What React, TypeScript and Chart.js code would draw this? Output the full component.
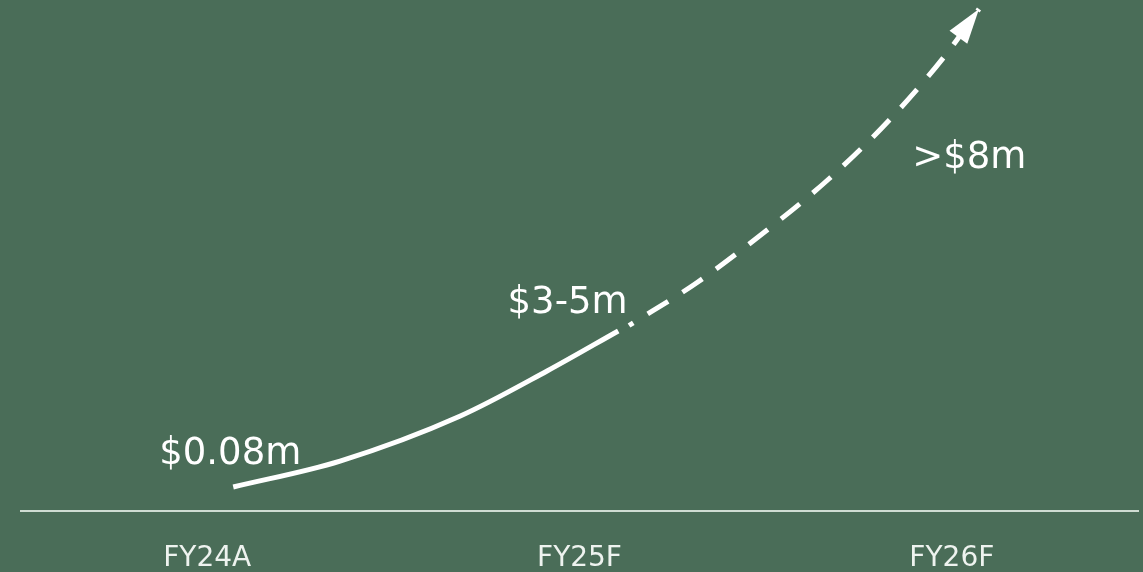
import React, { useEffect, useRef } from "react";
import { Chart, registerables } from "chart.js";

Chart.register(...registerables);

// Category axis
const categories = ["FY24A", "FY25F", "FY26F"];
// Value call-outs, one per category
const valueLabels = ["$0.08m", "$3-5m", ">$8m"];

// Solid (actual) part of the growth curve, x in category units, y in relative units
const solidX = [0.07, 0.357, 0.68, 0.913, 1.104];
const solidY = [0.47, 0.978, 1.859, 2.74, 3.523];

// Dashed (forecast) part of the growth curve, ending in the arrow tip
const dashedX = [1.133, 1.316, 1.497, 1.671, 1.831, 1.981, 2.073];
const dashedY = [3.63, 4.472, 5.46, 6.507, 7.642, 8.904, 9.824];

// Where each call-out sits (text baseline centre), in the same data units
const labelX = [0.062, 0.968, 2.047];
const labelY = [0.92, 3.875, 6.72];

const BG = "#4a6d58";
const FONT = "'DejaVu Sans', sans-serif";

const arrowPlugin = {
  id: "arrowHead",
  afterDatasetsDraw(chart: any) {
    const meta = chart.getDatasetMeta(1);
    const pts = meta.data;
    if (!pts || pts.length < 2) return;
    const tip = pts[pts.length - 1];
    const prev = pts[pts.length - 2];
    const a = Math.atan2(tip.y - prev.y, tip.x - prev.x);
    const len = 35;
    const half = 11;
    const bx = tip.x - Math.cos(a) * len;
    const by = tip.y - Math.sin(a) * len;
    const ctx = chart.ctx;
    ctx.save();
    ctx.fillStyle = "#ffffff";
    ctx.beginPath();
    ctx.moveTo(tip.x, tip.y);
    ctx.lineTo(bx + Math.sin(a) * half, by - Math.cos(a) * half);
    ctx.lineTo(bx - Math.sin(a) * half, by + Math.cos(a) * half);
    ctx.closePath();
    ctx.fill();
    ctx.restore();
  },
};

const labelPlugin = {
  id: "valueLabels",
  afterDatasetsDraw(chart: any) {
    const xs = chart.scales.x;
    const ys = chart.scales.y;
    const ctx = chart.ctx;
    ctx.save();
    ctx.fillStyle = "#ffffff";
    ctx.font = `37px ${FONT}`;
    ctx.textAlign = "center";
    ctx.textBaseline = "alphabetic";
    valueLabels.forEach((t, i) => {
      ctx.fillText(t, xs.getPixelForValue(labelX[i]), ys.getPixelForValue(labelY[i]));
    });
    ctx.restore();
  },
};

export default function App() {
  const ref = useRef<HTMLCanvasElement | null>(null);

  useEffect(() => {
    if (!ref.current) return;
    const chart = new Chart(ref.current, {
      type: "line",
      data: {
        datasets: [
          {
            data: solidX.map((x, i) => ({ x, y: solidY[i] })),
            borderColor: "#ffffff",
            borderWidth: 5,
            pointRadius: 0,
            cubicInterpolationMode: "monotone",
            fill: false,
          },
          {
            data: dashedX.map((x, i) => ({ x, y: dashedY[i] })),
            borderColor: "#ffffff",
            borderWidth: 5,
            borderDash: [24, 17],
            borderDashOffset: 19,
            pointRadius: 0,
            cubicInterpolationMode: "monotone",
            fill: false,
          },
        ],
      },
      options: {
        animation: false,
        responsive: true,
        maintainAspectRatio: false,
        layout: { padding: { left: 21, right: 5, top: 0, bottom: -35 } },
        plugins: { legend: { display: false }, tooltip: { enabled: false } },
        scales: {
          x: {
            type: "linear",
            min: -0.5,
            max: 2.5,
            afterBuildTicks: (axis: any) => {
              axis.ticks = categories.map((_, i) => ({ value: i }));
            },
            ticks: {
              callback: (v: any) => categories[v] ?? "",
              color: "#eef3ef",
              font: { family: FONT, size: 28, lineHeight: 1 },
              padding: 34,
              maxRotation: 0,
            },
            grid: { display: false, drawTicks: false },
            border: { display: true, color: "#cfdcd2", width: 2 },
          },
          y: {
            display: false,
            min: 0,
            max: 10,
          },
        },
      },
      plugins: [arrowPlugin, labelPlugin],
    });
    return () => chart.destroy();
  }, []);

  return (
    <div
      style={{
        position: "fixed",
        left: 0,
        top: 0,
        width: 1143,
        height: 572,
        background: BG,
      }}
    >
      <canvas ref={ref} />
    </div>
  );
}
